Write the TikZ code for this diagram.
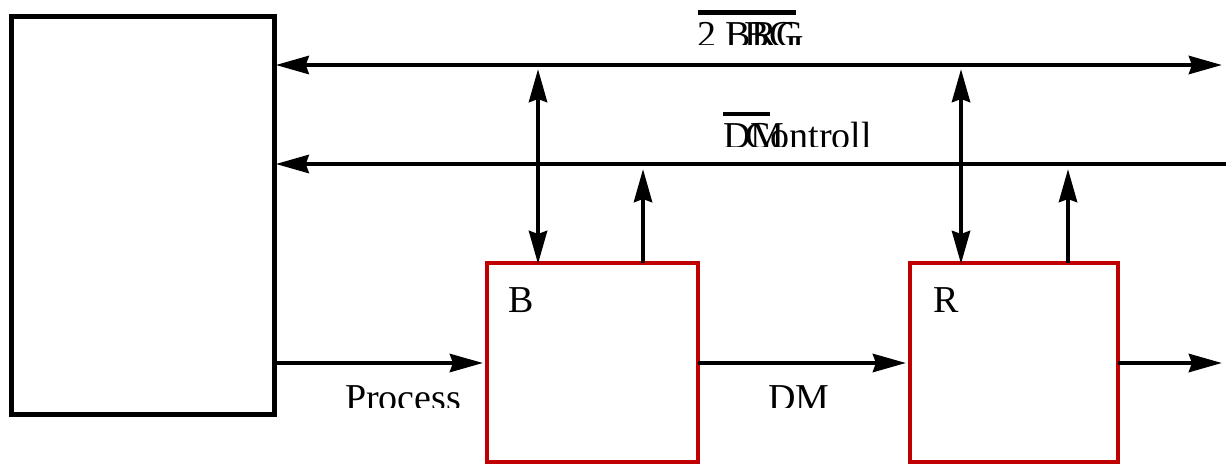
\documentclass[tikz,border=0pt]{standalone}
\usepackage{fontspec}
\setmainfont{Liberation Serif}
\usetikzlibrary{arrows.meta}
\definecolor{unitred}{RGB}{192,0,0}
\begin{document}
\begin{tikzpicture}[x=1pt,y=-1pt,
  >={Stealth[length=33pt,width=18pt,inset=3pt]},
  wire/.style={line width=4.5pt},
  frame/.style={draw, line width=4.8pt, inner sep=0pt, outer sep=0pt, anchor=north west},
  unit/.style={draw=unitred, line width=4.8pt, minimum width=211pt,
    minimum height=199pt, inner sep=0pt, outer sep=0pt, anchor=north west},
  lbl/.style={font=\fontsize{38}{40}\selectfont, inner sep=0pt, anchor=base west},
  bar/.style={line width=4.5pt}]
  \useasboundingbox (0,0) rectangle (1232,466);

  % controller block and the two processing units
  \node[frame, minimum width=263pt, minimum height=398pt] (ctl) at (11.7,16.7) {};
  \node[unit] (ub) at (487,263) {};
  \node[unit, minimum width=208pt] (ur) at (910,263) {};
  \node[lbl] (lb) at (508,312) {B};
  \node[lbl] (lr) at (933,312) {R};

  % bus ends
  \coordinate (busA) at ([xshift=1pt]ctl.east |- 0,65);
  \coordinate (busAend) at (1222,65);
  \coordinate (busB) at ([xshift=1pt]ctl.east |- 0,164);
  \coordinate (busBend) at (1226,164);
  \coordinate (out) at (1222,363);

  \draw[wire, <->] (busA) -- (busAend);
  \draw[wire, <-] (busB) -- (busBend);

  % taps between the buses and the units
  \coordinate (tapB1) at (538,69);
  \coordinate (tapB2) at (643,169);
  \coordinate (tapR1) at (961,69);
  \coordinate (tapR2) at (1068,169);
  \draw[wire, <->] (tapB1) -- ([yshift=-1pt]tapB1 |- ub.north);
  \draw[wire, ->] (tapB2 |- ub.north) -- (tapB2);
  \draw[wire, <->] (tapR1) -- ([yshift=-1pt]tapR1 |- ur.north);
  \draw[wire, ->] (tapR2 |- ur.north) -- (tapR2);

  % data path
  \draw[wire, ->] (ctl.east |- 0,363) -- ([xshift=-4pt]ub.west |- 0,363);
  \draw[wire, ->] (ub.east |- 0,363) -- ([xshift=-4pt]ur.west |- 0,363);
  \draw[wire, ->] (ur.east |- 0,363) -- (out);

  % labels, cut off just above the baseline
  \begin{scope}
    \clip (600,0) rectangle (900,44);
    \node[lbl] (t1) at (697,47.5) {2 BRG};
    \node[lbl] (t1b) at (744,47.5) {BG};
  \end{scope}
  \draw[bar] (698,12.5) -- (796,12.5);

  \begin{scope}
    \clip (600,100) rectangle (900,146);
    \node[lbl] (t2) at (723,148.5) {DM};
    \node[lbl] (t2b) at (745,148.5) {Controll};
  \end{scope}
  \draw[bar] (723,114) -- (770,114);

  \begin{scope}
    \clip (300,370) rectangle (480,407);
    \node[lbl] (t3) at (345,410) {Process};
  \end{scope}
  \begin{scope}
    \clip (720,370) rectangle (880,407);
    \node[lbl] (t4) at (768,410) {DM};
  \end{scope}
\end{tikzpicture}
\end{document}
